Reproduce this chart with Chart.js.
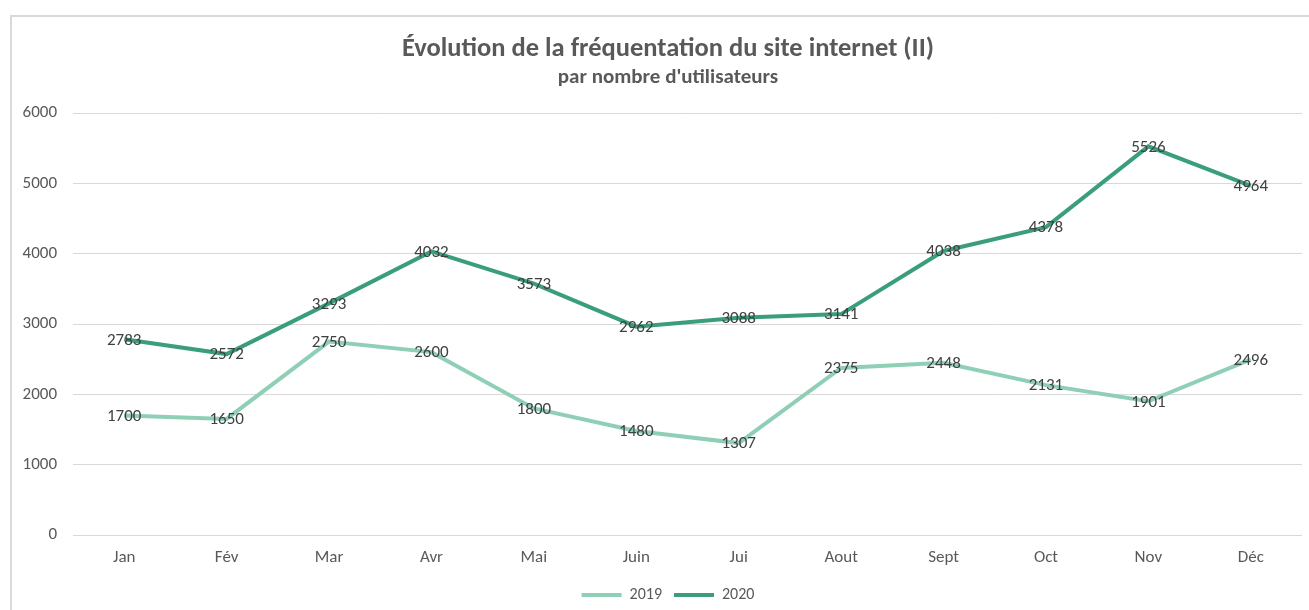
<!DOCTYPE html>
<html>
<head>
<meta charset="utf-8">
<script src="https://cdn.jsdelivr.net/npm/chart.js@4/dist/chart.umd.min.js"></script>
<style>
  html, body { margin: 0; padding: 0; background: #fff; overflow: hidden; }
  #wrap { position: relative; width: 1309px; height: 610px; }
</style>
</head>
<body>
<div id="wrap"><canvas id="chart"></canvas></div>
<script>
const months = ["Jan", "Fév", "Mar", "Avr", "Mai", "Juin", "Jui", "Aout", "Sept", "Oct", "Nov", "Déc"];
const users2019 = [1700, 1650, 2750, 2600, 1800, 1480, 1307, 2375, 2448, 2131, 1901, 2496];
const users2020 = [2783, 2572, 3293, 4032, 3573, 2962, 3088, 3141, 4038, 4378, 5526, 4964];

const fontFamily = "Carlito, Lato, sans-serif";
const textGrey = "#595959";
const color2019 = "#8fcfb6";
const color2020 = "#3a9e7d";

// light frame around the chart, like the Excel chart border
const framePlugin = {
    id: 'frame',
    beforeDraw(chart) {
        const ctx = chart.ctx;
        ctx.save();
        ctx.fillStyle = '#fff';
        ctx.fillRect(0, 0, chart.width, chart.height);
        ctx.strokeStyle = '#d9d9d9';
        ctx.lineWidth = 2;
        ctx.strokeRect(11, 16, chart.width + 20, chart.height + 20);
        ctx.restore();
    }
};

// value labels centred on every point
const valueLabels = {
    id: 'valueLabels',
    afterDatasetsDraw(chart) {
        const ctx = chart.ctx;
        ctx.save();
        ctx.font = "17px " + fontFamily;
        ctx.fillStyle = "#404040";
        ctx.textAlign = 'center';
        ctx.textBaseline = 'middle';
        chart.data.datasets.forEach((ds, i) => {
            chart.getDatasetMeta(i).data.forEach((pt, j) => {
                ctx.fillText(ds.data[j], pt.x, pt.y + 1);
            });
        });
        ctx.restore();
    }
};

new Chart(document.getElementById('chart'), {
    type: 'line',
    data: {
        labels: months,
        datasets: [
            {
                label: '2019',
                data: users2019,
                borderColor: color2019,
                backgroundColor: color2019,
                borderWidth: 4,
                pointRadius: 0,
                tension: 0
            },
            {
                label: '2020',
                data: users2020,
                borderColor: color2020,
                backgroundColor: color2020,
                borderWidth: 4,
                pointRadius: 0,
                tension: 0
            }
        ]
    },
    options: {
        responsive: true,
        maintainAspectRatio: false,
        animation: false,
        // the Excel frame runs past the right edge, so the titles are centred a bit to the right
        layout: {
            padding: { left: 0, right: -27, top: 0, bottom: -3 }
        },

        //Scales
        scales: {
            x: {
                offset: true,
                afterFit(scale) { scale.height = 40; },
                grid: { display: false, drawTicks: false },
                border: { display: false },
                ticks: { color: textGrey, font: { family: fontFamily, size: 17 }, padding: 13 }
            },
            y: {
                min: 0,
                max: 6000,
                afterFit(scale) { scale.width = 73; },
                grid: { color: '#d9d9d9', lineWidth: 1, drawTicks: false },
                border: { display: false },
                ticks: {
                    stepSize: 1000,
                    color: textGrey,
                    font: { family: fontFamily, size: 17 },
                    padding: 16,
                    callback: v => String(v)
                }
            },
            // empty spacer on the right
            yRight: {
                position: 'right',
                afterFit(scale) { scale.width = 34; },
                grid: { display: false, drawTicks: false },
                border: { display: false },
                ticks: { display: false }
            }
        },

        // Title
        plugins: {
            title: {
                display: true,
                text: "Évolution de la fréquentation du site internet (II)",
                color: textGrey,
                font: { family: fontFamily, size: 26.5, weight: 'bold' },
                padding: { top: 33, bottom: 0 }
            },
            subtitle: {
                display: true,
                text: "par nombre d'utilisateurs",
                color: textGrey,
                font: { family: fontFamily, size: 21, weight: 'bold' },
                padding: { top: 0, bottom: 23 }
            },
            legend: {
                position: 'bottom',
                labels: {
                    color: textGrey,
                    font: { family: fontFamily, size: 16 },
                    boxWidth: 40,
                    boxHeight: 4,
                    padding: 12,
                    generateLabels(chart) {
                        return Chart.defaults.plugins.legend.labels.generateLabels(chart).map(item => {
                            item.lineWidth = 0;
                            return item;
                        });
                    }
                }
            },
            tooltip: { enabled: false }
        }
    },
    plugins: [framePlugin, valueLabels]
});
</script>
</body>
</html>
